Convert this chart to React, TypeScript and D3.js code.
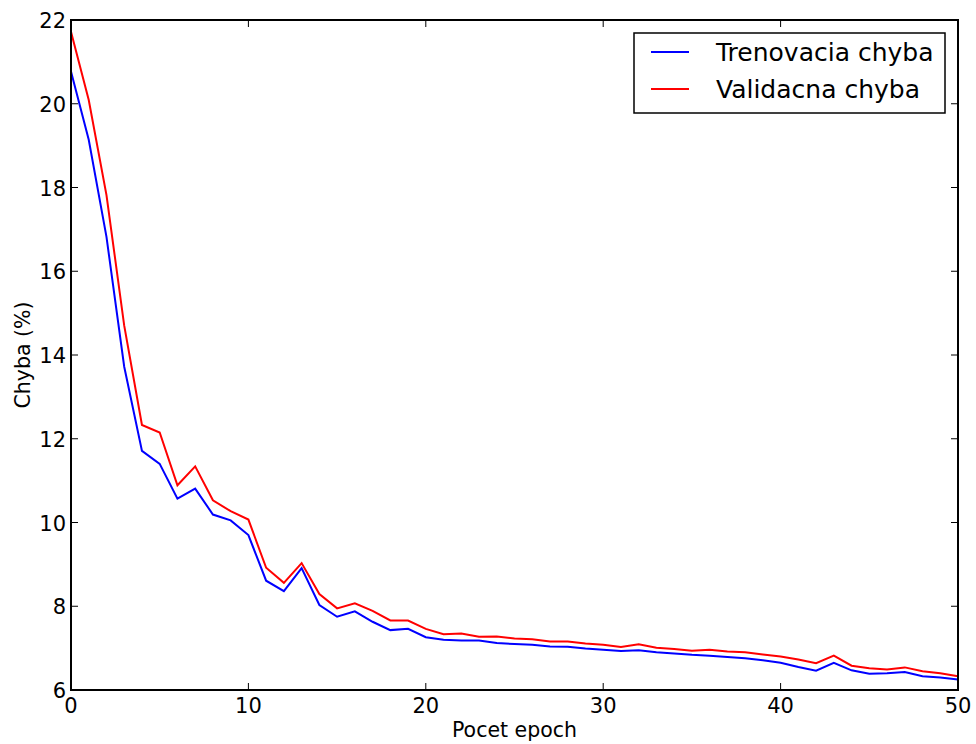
import React from "react";
import * as d3 from "d3";

const epochs: number[] = Array.from({ length: 51 }, (_, i) => i);
const trainError: number[] = [
  20.77, 19.14, 16.82, 13.72, 11.71, 11.40, 10.57, 10.81, 10.19, 10.05,
  9.70, 8.61, 8.36, 8.91, 8.03, 7.75, 7.88, 7.63, 7.43, 7.46,
  7.26, 7.20, 7.18, 7.18, 7.12, 7.10, 7.08, 7.04, 7.03, 6.99,
  6.96, 6.93, 6.95, 6.90, 6.87, 6.84, 6.82, 6.79, 6.76, 6.71,
  6.65, 6.55, 6.46, 6.65, 6.47, 6.39, 6.40, 6.43, 6.33, 6.30, 6.25,
];
const validError: number[] = [
  21.72, 20.09, 17.82, 14.70, 12.33, 12.15, 10.89, 11.34, 10.53, 10.27,
  10.07, 8.92, 8.56, 9.03, 8.29, 7.95, 8.07, 7.89, 7.66, 7.66,
  7.46, 7.33, 7.35, 7.27, 7.28, 7.23, 7.21, 7.16, 7.16, 7.11,
  7.08, 7.03, 7.09, 7.01, 6.98, 6.94, 6.96, 6.92, 6.90, 6.85,
  6.80, 6.73, 6.64, 6.82, 6.58, 6.52, 6.49, 6.54, 6.45, 6.40, 6.33,
];
const xTicks: number[] = [0, 10, 20, 30, 40, 50];
const yTicks: number[] = [6, 8, 10, 12, 14, 16, 18, 20, 22];
const seriesNames: string[] = ["Trenovacia chyba", "Validacna chyba"];
const seriesColors: string[] = ["#0000ff", "#ff0000"];

export default function App() {
  const W = 976, H = 744;
  const left = 71, right = 958, top = 20, bottom = 690;
  const x = d3.scaleLinear().domain([0, 50]).range([left, right]);
  const y = d3.scaleLinear().domain([6, 22]).range([bottom, top]);
  const line = d3
    .line<number>()
    .x((_, i) => x(epochs[i]))
    .y((d) => y(d));
  const series = [trainError, validError];
  const font = "'DejaVu Sans', sans-serif";
  const tl = 7;
  return (
    <svg
      width={W}
      height={H}
      style={{ position: "absolute", left: 0, top: 0, background: "#fff" }}
      fontFamily={font}
    >
      <rect x={0} y={0} width={W} height={H} fill="#fff" />
      {series.map((s, k) => (
        <path
          key={k}
          d={line(s) || ""}
          fill="none"
          stroke={seriesColors[k]}
          strokeWidth={2}
          strokeLinejoin="miter"
        />
      ))}
      {xTicks.map((t) => (
        <g key={"x" + t}>
          <line x1={x(t)} x2={x(t)} y1={bottom} y2={bottom - tl} stroke="#000" strokeWidth={1} />
          <line x1={x(t)} x2={x(t)} y1={top} y2={top + tl} stroke="#000" strokeWidth={1} />
          <text x={x(t)} y={bottom + 23} textAnchor="middle" fontSize={21}>
            {t}
          </text>
        </g>
      ))}
      {yTicks.map((t) => (
        <g key={"y" + t}>
          <line x1={left} x2={left + tl} y1={y(t)} y2={y(t)} stroke="#000" strokeWidth={1} />
          <line x1={right} x2={right - tl} y1={y(t)} y2={y(t)} stroke="#000" strokeWidth={1} />
          <text x={left - 5} y={y(t) + 8} textAnchor="end" fontSize={21}>
            {t}
          </text>
        </g>
      ))}
      <rect
        x={left}
        y={top}
        width={right - left}
        height={bottom - top}
        fill="none"
        stroke="#000"
        strokeWidth={2}
      />
      <text x={(left + right) / 2} y={737} textAnchor="middle" fontSize={20.5}>
        Pocet epoch
      </text>
      <text
        transform={`translate(30, ${(top + bottom) / 2}) rotate(-90)`}
        textAnchor="middle"
        fontSize={20.5}
      >
        Chyba (%)
      </text>
      <g>
        <rect x={634} y={33} width={311} height={80} fill="#fff" stroke="#000" strokeWidth={1.5} />
        {seriesNames.map((n, k) => (
          <g key={n}>
            <line
              x1={651}
              x2={689}
              y1={52 + k * 37}
              y2={52 + k * 37}
              stroke={seriesColors[k]}
              strokeWidth={2}
            />
            <text x={716} y={52 + k * 37 + 9} fontSize={25}>
              {n}
            </text>
          </g>
        ))}
      </g>
    </svg>
  );
}
